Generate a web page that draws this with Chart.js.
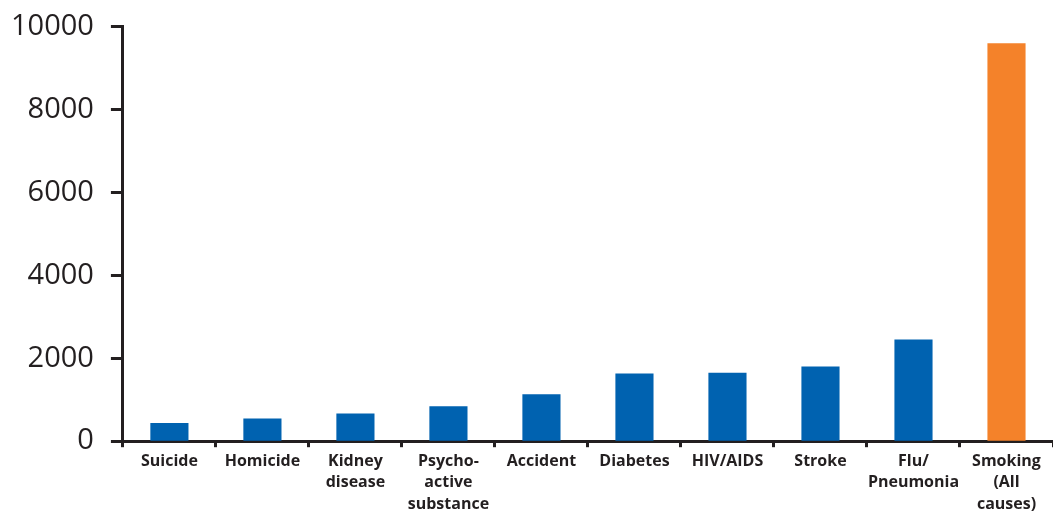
<!DOCTYPE html>
<html>
<head>
<meta charset="utf-8">
<script src="https://cdn.jsdelivr.net/npm/chart.js@4/dist/chart.umd.min.js"></script>
<style>
  html, body { margin: 0; padding: 0; background: #fff; overflow: hidden; }
  #wrap { position: relative; width: 1053px; height: 515px; }
</style>
</head>
<body>
<div id="wrap"><canvas id="deathsChart"></canvas></div>
<script>
// causes of death, last one is smoking (all causes)
const causes = [
  'Suicide', 'Homicide', ['Kidney', 'disease'], ['Psycho-', 'active', 'substance'],
  'Accident', 'Diabetes', 'HIV/AIDS', 'Stroke', ['Flu/', 'Pneumonia'], ['Smoking', '(All', 'causes)']
];
const deaths = [440, 550, 670, 840, 1130, 1630, 1650, 1800, 2450, 9600];
const yTicks = [0, 2000, 4000, 6000, 8000, 10000];

const blue = '#0062b0';
const orange = '#f4822a';
const ink = '#231f20';

const barColors = deaths.map((v, i) => i === deaths.length - 1 ? orange : blue);

const ctx = document.getElementById('deathsChart').getContext('2d');
new Chart(ctx, {
  type: 'bar',
  data: {
    labels: causes,
    datasets: [{
      data: deaths,
      backgroundColor: barColors,
      borderWidth: 0,
      barPercentage: 0.41,
      categoryPercentage: 1
    }]
  },
  options: {
    responsive: true,
    maintainAspectRatio: false,
    animation: false,
    layout: { padding: { left: -6, top: 2, right: -4, bottom: -3 } },
    plugins: {
      legend: { display: false },
      tooltip: { enabled: false }
    },
    scales: {
      x: {
        grid: {
          drawOnChartArea: false,
          drawTicks: true,
          tickLength: 6,
          tickWidth: 3,
          tickColor: ink,
          offset: true
        },
        border: { display: true, color: ink, width: 3 },
        ticks: {
          color: ink,
          padding: 3,
          maxRotation: 0,
          autoSkip: false,
          font: { family: 'Open Sans', weight: 'bold', size: 16, lineHeight: 1.35 }
        }
      },
      y: {
        min: 0,
        max: 10000,
        afterBuildTicks: axis => { axis.ticks = yTicks.map(v => ({ value: v })); },
        grid: {
          drawOnChartArea: false,
          drawTicks: true,
          tickLength: 12,
          tickWidth: 3,
          tickColor: ink
        },
        border: { display: true, color: ink, width: 3 },
        ticks: {
          color: ink,
          padding: 17,
          callback: v => String(v),
          font: { family: 'Open Sans', size: 29, lineHeight: 0.66 }
        }
      }
    }
  }
});
</script>
</body>
</html>
